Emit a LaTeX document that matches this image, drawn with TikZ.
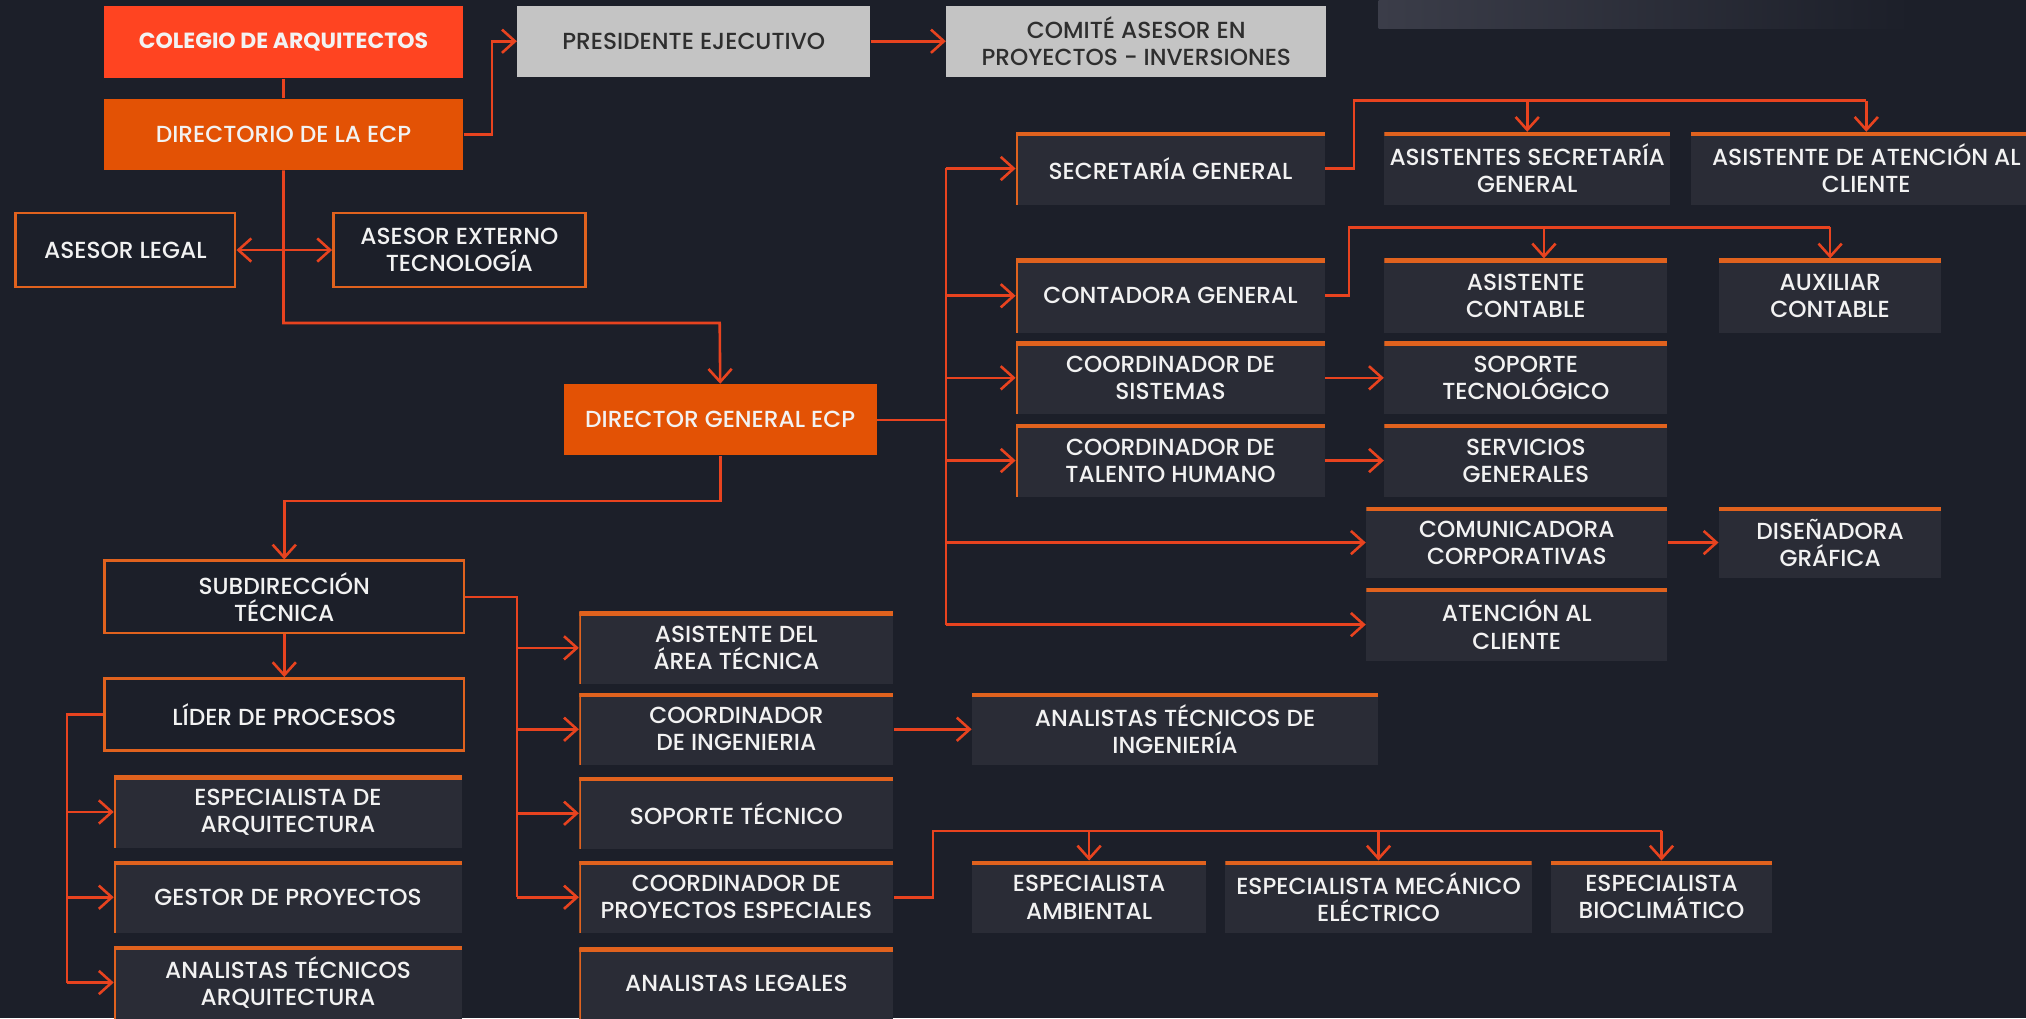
\documentclass[tikz,border=0pt]{standalone}
\usepackage{fontspec}
\setmainfont{Poppins}[UprightFont={* Medium}, BoldFont={* Bold}]
\usetikzlibrary{arrows.meta}

\definecolor{fondo}{HTML}{1C1F29}
\definecolor{cardbg}{HTML}{2A2C36}
\definecolor{rojo}{HTML}{FF4421}
\definecolor{naranja}{HTML}{E35205}
\definecolor{gris}{HTML}{C4C4C4}
\definecolor{grisink}{HTML}{2E2E2E}
\definecolor{borde}{HTML}{E0621E}
\definecolor{linea}{HTML}{E8431F}
\definecolor{texto}{HTML}{F2F2F2}
\definecolor{tenue}{HTML}{3B3D49}

\tikzset{
  base/.style={font=\fontsize{9}{10.5}\selectfont, align=center, inner sep=2pt, anchor=north west, text=texto},
  sz/.style 2 args={minimum width=#1*0.5pt, minimum height=#2*0.5pt},
  head/.style={base, fill=#1},
  ghost/.style={base, fill=gris, text=grisink},
  frame/.style={base, draw=borde, line width=1pt, fill=fondo},
  card/.style={base, fill=cardbg,
    path picture={\draw[draw=borde, line width=3pt] (path picture bounding box.north west) -- (path picture bounding box.north east);}},
  cardl/.style={base, fill=cardbg,
    path picture={\draw[draw=borde, line width=1.6pt] (path picture bounding box.south west) -- (path picture bounding box.north west);
                  \draw[draw=borde, line width=3pt] (path picture bounding box.north west) -- (path picture bounding box.north east);}},
  link/.style={draw=linea, line width=1pt},
  arr/.style={link, -{Straight Barb[length=5pt,width=9pt]}},
  arr2/.style={link, {Straight Barb[length=5pt,width=9pt]}-{Straight Barb[length=5pt,width=9pt]}}
}

\begin{document}
\begin{tikzpicture}[x=0.5pt,y=0.5pt,yscale=-1]
\useasboundingbox (0,0) rectangle (1568,788);
\fill[fondo] (0,0) rectangle (1568,788);
\clip (0,0) rectangle (1568,788);
\shade[left color=tenue, right color=fondo] (1067,0) rectangle (1480,22);

% top block
\node[head=rojo, sz={278}{56}, font=\fontsize{8.5}{10.5}\selectfont\bfseries] (colegio) at (80,4) {COLEGIO DE ARQUITECTOS};
\node[head=naranja, sz={278}{55}] (dirio) at (80,76) {DIRECTORIO DE LA ECP};
\node[ghost, sz={273}{55}] (pres) at (400,4) {PRESIDENTE EJECUTIVO};
\node[ghost, sz={294}{55}] (comite) at (732,4) {COMITÉ ASESOR EN\\PROYECTOS - INVERSIONES};
\node[frame, sz={170}{57}] (aslegal) at (11,164) {ASESOR LEGAL};
\node[frame, sz={195}{57}] (asext) at (257,164) {ASESOR EXTERNO\\TECNOLOGÍA};
\node[head=naranja, sz={242}{55}] (dirgen) at (436,297) {DIRECTOR GENERAL ECP};

% right block
\node[cardl, sz={239}{56}] (secre) at (786,102) {SECRETARÍA GENERAL};
\node[card, sz={219}{56}] (asissec) at (1071,102) {ASISTENTES SECRETARÍA\\GENERAL};
\node[card, sz={272}{56}] (asisat) at (1308,102) {ASISTENTE DE ATENCIÓN AL\\CLIENTE};
\node[cardl, sz={239}{57}] (conta) at (786,200) {CONTADORA GENERAL};
\node[card, sz={219}{57}] (asiscont) at (1071,200) {ASISTENTE\\CONTABLE};
\node[card, sz={172}{57}] (auxcont) at (1330,200) {AUXILIAR\\CONTABLE};
\node[cardl, sz={239}{56}] (cosis) at (786,264) {COORDINADOR DE\\SISTEMAS};
\node[card, sz={219}{56}] (soptec) at (1071,264) {SOPORTE\\TECNOLÓGICO};
\node[cardl, sz={239}{56}] (cotal) at (786,328) {COORDINADOR DE\\TALENTO HUMANO};
\node[card, sz={219}{56}] (servgen) at (1071,328) {SERVICIOS\\GENERALES};
\node[card, sz={233}{55}] (comun) at (1057,392) {COMUNICADORA\\CORPORATIVAS};
\node[card, sz={172}{55}] (disen) at (1330,392) {DISEÑADORA\\GRÁFICA};
\node[card, sz={233}{56}] (atenc) at (1057,455) {ATENCIÓN AL\\CLIENTE};

% lower block
\node[frame, sz={278}{56}] (subdir) at (80,433) {SUBDIRECCIÓN\\TÉCNICA};
\node[frame, sz={278}{56}] (lider) at (80,524) {LÍDER DE PROCESOS};
\node[cardl, sz={269}{56}] (esparq) at (88,600) {ESPECIALISTA DE\\ARQUITECTURA};
\node[cardl, sz={269}{56}] (gestor) at (88,666) {GESTOR DE PROYECTOS};
\node[cardl, sz={269}{56}] (anaarq) at (88,732) {ANALISTAS TÉCNICOS\\ARQUITECTURA};
\node[cardl, sz={243}{56}] (asisarea) at (448,473) {ASISTENTE DEL\\ÁREA TÉCNICA};
\node[cardl, sz={243}{56}] (coing) at (448,536) {COORDINADOR\\DE INGENIERIA};
\node[cardl, sz={243}{56}] (soporte) at (448,601) {SOPORTE TÉCNICO};
\node[cardl, sz={243}{56}] (coproy) at (448,666) {COORDINADOR DE\\PROYECTOS ESPECIALES};
\node[cardl, sz={243}{56}] (analeg) at (448,733) {ANALISTAS LEGALES};
\node[card, sz={314}{56}] (anaing) at (752,536) {ANALISTAS TÉCNICOS DE\\INGENIERÍA};
\node[card, sz={181}{56}] (espamb) at (752,666) {ESPECIALISTA\\AMBIENTAL};
\node[card, sz={237}{56}] (espmec) at (948,666) {ESPECIALISTA MECÁNICO\\ELÉCTRICO};
\node[card, sz={171}{56}] (espbio) at (1200,666) {ESPECIALISTA\\BIOCLIMÁTICO};

% trunk and bus points
\coordinate (jdir) at (557,250);
\coordinate (tr1) at (732,0);
\coordinate (tr2) at (400,0);
\coordinate (tr3) at (52,0);
\coordinate (busA) at (1048,78);
\coordinate (busB) at (1044,176);
\coordinate (busC) at (722,643);
\coordinate (actop) at ([xshift=7pt]asiscont.north);

% connectors, top
\draw[link] (colegio.south) -- (dirio.north);
\draw[arr] (dirio.east) -- ++(22,0) |- (pres.west);
\draw[arr] (pres.east) -- (comite.west);
\draw[arr] (dirio.south) |- (jdir) -- (dirgen.north);
\draw[arr2] (aslegal.east) -- (asext.west);

% connectors, director general
\draw[link] (dirgen.east) -- (dirgen.east -| tr1);
\draw[link] (tr1 |- secre.west) -- (tr1 |- atenc.west);
\foreach \n in {secre,conta,cosis,cotal,comun,atenc}
  \draw[arr] (tr1 |- \n.west) -- (\n.west);
\draw[link] (secre.east) -| (busA) -- (busA -| asisat.north);
\foreach \n in {asissec,asisat}
  \draw[arr] (busA -| \n.north) -- (\n.north);
\draw[link] (conta.east) -| (busB) -- (busB -| auxcont.north);
\draw[arr] (busB -| actop) -- (actop);
\draw[arr] (busB -| auxcont.north) -- (auxcont.north);
\draw[arr] (cosis.east) -- (soptec.west);
\draw[arr] (cotal.east) -- (servgen.west);
\draw[arr] (comun.east) -- (disen.west);

% connectors, subdireccion
\draw[arr] (dirgen.south) -- ++(0,35) -| (subdir.north);
\draw[arr] (subdir.south) -- (lider.north);
\draw[link] (subdir.east) -| (tr2 |- coproy.west);
\foreach \n in {asisarea,coing,soporte,coproy}
  \draw[arr] (tr2 |- \n.west) -- (\n.west);
\draw[link] (lider.west) -| (tr3 |- anaarq.west);
\foreach \n in {esparq,gestor,anaarq}
  \draw[arr] (tr3 |- \n.west) -- (\n.west);
\draw[arr] (coing.east) -- (anaing.west);
\draw[link] (coproy.east) -| (busC) -- (busC -| espbio.north);
\foreach \n in {espamb,espmec,espbio}
  \draw[arr] (busC -| \n.north) -- (\n.north);
\end{tikzpicture}
\end{document}
